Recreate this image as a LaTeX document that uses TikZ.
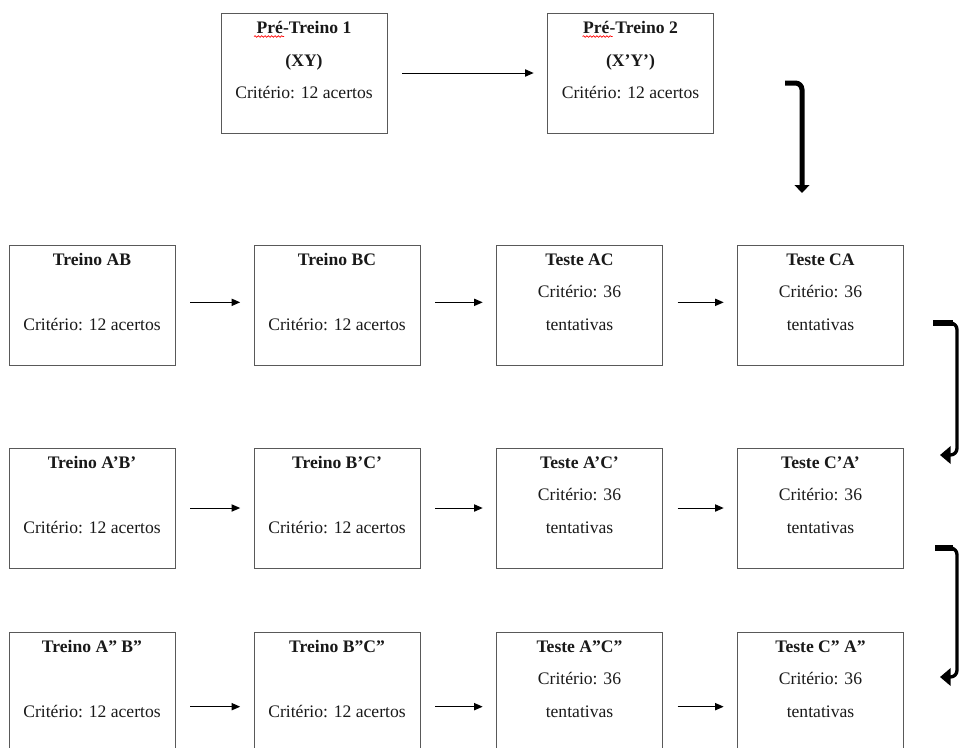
\documentclass[tikz,border=0pt]{standalone}
\usepackage{fontspec}
\setmainfont{Liberation Serif}
\usetikzlibrary{arrows.meta, calc, decorations.pathmorphing}

\tikzset{
  caixa/.style={draw=black!65, line width=0.75pt, minimum width=124.5pt, minimum height=90pt, inner sep=0pt},
  rotulo/.style={anchor=north, align=center, inner sep=0pt, text=black!90, font=\fontsize{13.2}{24.4}\selectfont},
  seta/.style={line width=0.75pt, -{Triangle[length=6.5pt, width=5.5pt]}, shorten <=11pt, shorten >=10pt},
  curva/.style={line width=3.5pt, rounded corners=5pt, -{Triangle[length=6pt, width=11pt]}},
  sublinhado/.style={red, line width=0.5pt, decorate, decoration={snake, amplitude=0.6pt, segment length=2.5pt}}
}

% box with text set from its top edge
\newcommand{\etapa}[4]{%
  \node[caixa] (#1) at (#2,#3+60) {};
  \node[rotulo] (#1-t) at ([yshift=-6.5pt]#1.north) {#4};
}

\begin{document}
\begin{tikzpicture}[x=0.75pt, y=-0.75pt]
\clip (0,0) rectangle (960,747);

% pre-training
\etapa{pta}{304}{13}{\textbf{Pré-Treino 1}\\\textbf{(XY)}\\Critério: 12 acertos}
\etapa{ptb}{630.5}{13}{\textbf{Pré-Treino 2}\\\textbf{(X’Y’)}\\Critério: 12 acertos}
\draw[seta] (pta) -- (ptb);
\draw[sublinhado] ($(pta.north)+(-50,24)$) -- ++(30,0);
\draw[sublinhado] ($(ptb.north)+(-48,24)$) -- ++(30,0);

% first row
\etapa{ab}{92}{245}{\textbf{Treino AB}\\[24.4pt]Critério: 12 acertos}
\etapa{bc}{337}{245}{\textbf{Treino BC}\\[24.4pt]Critério: 12 acertos}
\etapa{ac}{579.5}{245}{\textbf{Teste AC}\\Critério: 36\\tentativas}
\etapa{ca}{820.5}{245}{\textbf{Teste CA}\\Critério: 36\\tentativas}
\foreach \a/\b in {ab/bc, bc/ac, ac/ca}
  \draw[seta] ([yshift=2pt]\a.east) -- ([yshift=2pt]\b.west);

% second row
\etapa{ab1}{92}{448}{\textbf{Treino A’B’}\\[24.4pt]Critério: 12 acertos}
\etapa{bc1}{337}{448}{\textbf{Treino B’C’}\\[24.4pt]Critério: 12 acertos}
\etapa{ac1}{579.5}{448}{\textbf{Teste A’C’}\\Critério: 36\\tentativas}
\etapa{ca1}{820.5}{448}{\textbf{Teste C’A’}\\Critério: 36\\tentativas}
\foreach \a/\b in {ab1/bc1, bc1/ac1, ac1/ca1}
  \draw[seta] (\a) -- (\b);

% third row
\etapa{ab2}{92}{632}{\textbf{Treino A” B”}\\[24.4pt]Critério: 12 acertos}
\etapa{bc2}{337}{632}{\textbf{Treino B”C”}\\[24.4pt]Critério: 12 acertos}
\etapa{ac2}{579.5}{632}{\textbf{Teste A”C”}\\Critério: 36\\tentativas}
\etapa{ca2}{820.5}{632}{\textbf{Teste C” A”}\\Critério: 36\\tentativas}
\foreach \a/\b in {ab2/bc2, bc2/ac2, ac2/ca2}
  \draw[seta] ([yshift=-11pt]\a.east) -- ([yshift=-11pt]\b.west);

% elbow arrows
\coordinate (e1s) at (785,83);
\coordinate (e1f) at (802,193);
\draw[curva, line width=3.75pt] (e1s) -| (e1f);

\coordinate (e2s) at (933,323);
\coordinate (e2f) at (940,455);
\draw[curva, line width=2.5pt, -{Triangle[length=8pt, width=13pt]}] (e2s) -- ++(24,0) |- (e2f);
\draw[line width=4.5pt] (e2s) -- ++(20,0);

\coordinate (e3s) at (935,548);
\coordinate (e3f) at (940,677);
\draw[curva, line width=2.5pt, -{Triangle[length=8pt, width=13pt]}] (e3s) -- ++(22,0) |- (e3f);
\draw[line width=4.5pt] (e3s) -- ++(18,0);

\end{tikzpicture}
\end{document}
